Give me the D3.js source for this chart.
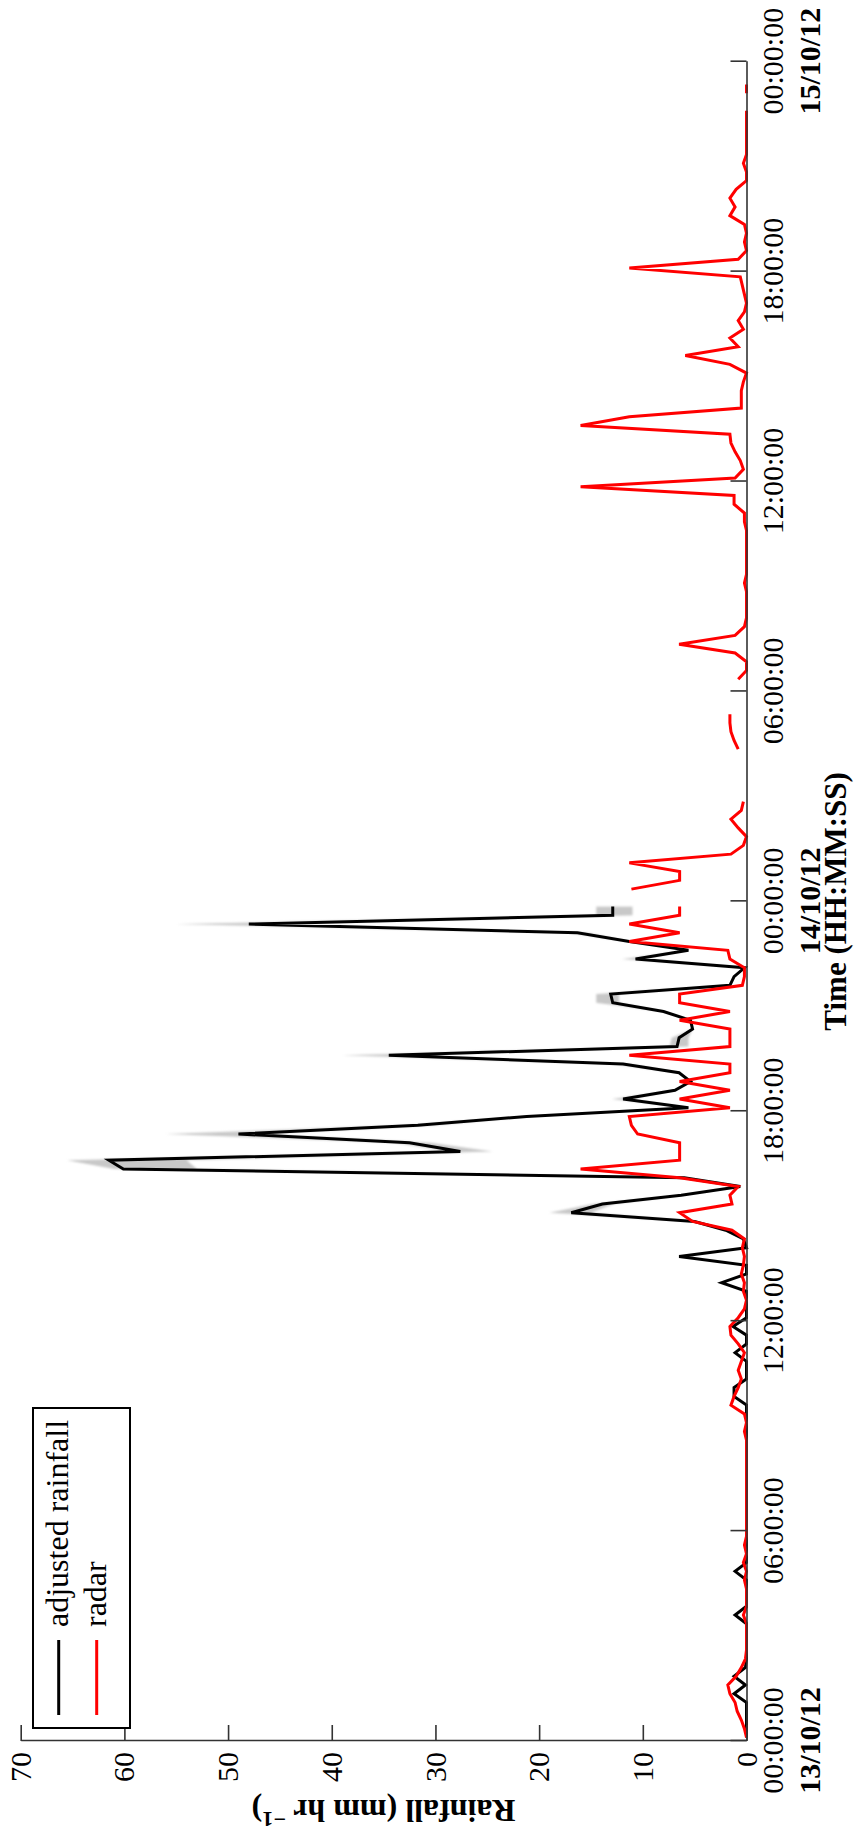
<!DOCTYPE html>
<html>
<head>
<meta charset="utf-8">
<script src="https://cdn.jsdelivr.net/npm/d3@7"></script>
<style>
  html, body { margin: 0; padding: 0; background: #ffffff; }
  svg { display: block; }
</style>
</head>
<body>
<script>
// Rainfall time series, sampled every 15 minutes from 13/10/12 00:06
const startTime = "2012-10-13T00:06:00";
const stepMinutes = 15;

// Gauge-adjusted rainfall (mm/hr)
const adjusted = [
  0, 0, 0, 0, 0, 1.2, 0.1, 1.2, 0.1, 0,
  0, 0, 0, 0, 1.1, 0, 0, 0, 0, 1.1,
  0, 0, 0, 0, 0, 0, 0, 0, 0, 0,
  0, 0, 0, 0, 0, 0, 0, 0, 0, 1.2,
  1.2, 0, 0, 0, 1.1, 0, 0, 1.3, 0, 0,
  0, 0, 2.4, 0, 0, 6.5, 0, 0.3, 2.0, 5.0,
  16.9, 13.9, 6.3, 0.6, 6.0, 60.1, 61.5, 27.6, 32.5, 49.0,
  31.7, 21.2, 5.6, 11.9, 6.9, 5.4, 6.5, 11.9, 34.5, 6.7,
  6.5, 5.2, 5.4, 8.0, 12.9, 13.1, 1.6, 1.2, 0.2, 10.7,
  5.6, 11.3, 16.3, 48.0, 12.9, 12.9
];

// Uncertainty range of the adjusted series (sample index, low, high)
const bandIdx  = [60, 61, 65, 66, 67, 68, 69, 70, 73, 77, 78, 79, 80, 84, 85, 89, 92, 93, 94, 95];
const bandLow  = [15.0, 12.8, 53, 54, 24.5, 30.5, 47, 30, 11.3, 11.3, 33.5, 5.6, 5.6, 12.3, 12.3, 10.2, 15.3, 47, 11.0, 11.0];
const bandHigh = [19.0, 14.8, 61, 65.5, 28.6, 34, 56, 33, 13.0, 13.0, 39, 7.4, 7.2, 14.5, 14.5, 12.0, 17.2, 55, 14.5, 14.5];

// Radar rainfall (mm/hr); null = no data
const radar = [
  0, 0.2, 0.5, 0.9, 1.1, 1.6, 1.8, 1.0, 0.5, 0.1,
  0, 0, 0, 0, 0.3, 0, 0, 0, 0.2, 0,
  0.3, 0, 0.2, 0, 0, 0, 0, 0, 0, 0,
  0, 0, 0, 0, 0, 0.2, 0, 0.2, 1.5, 1.2,
  0.8, 0.5, 0.8, 0.5, 0.2, 0.8, 1.5, 1.6, 0.8, 0.2,
  0, 0.3, 0.2, 0.5, 0.3, 0.2, 0.4, 0.2, 1.4, 5.2,
  6.45, 1.4, 1.6, 0.8, 6.45, 16.0, 6.45, 6.45, 6.45, 10.5,
  11.1, 11.3, 1.6, 6.45, 1.6, 6.45, 1.6, 1.6, 11.3, 1.6,
  1.6, 1.6, 6.45, 1.6, 6.45, 6.45, 0.4, 0.2, 0.2, 1.6,
  1.8, 11.3, 6.45, 11.3, 6.45, 6.45, null, 11.1, 6.45, 6.45,
  11.3, 1.5, 0.3, 0, 0.8, 1.5, 0.5, 0.3, null, null,
  null, null, null, 0.8, 1.2, 1.5, 1.6, 1.6, null, null,
  null, 0.8, 0, 0, 1.1, 6.5, 1.1, 0.2, 0, 0,
  0, 0, 0.2, 0, 0, 0, 0, 0, 0, 0.2,
  0.2, 1.2, 1.2, 16.0, 1.1, 0.3, 0.6, 1.1, 1.5, 1.6,
  16.0, 11.3, 0.5, 0.5, 0.5, 0.3, 0, 1.6, 5.9, 0.8,
  1.6, 0.3, 0.8, 0.2, 0, 0.2, 0.4, 0.6, 11.3, 0.8,
  0, 0.2, 0, 0.2, 1.6, 1.1, 1.6, 1.0, 0, 0,
  0.3, 0, 0, 0, 0, 0, 0, null, 0, 0,
  null, null, null
];

const rainTicks = [0, 10, 20, 30, 40, 50, 60, 70];
const timeTicks = [
  "2012-10-13T00:00:00", "2012-10-13T06:00:00", "2012-10-13T12:00:00", "2012-10-13T18:00:00",
  "2012-10-14T00:00:00", "2012-10-14T06:00:00", "2012-10-14T12:00:00", "2012-10-14T18:00:00",
  "2012-10-15T00:00:00"
];
const seriesNames = ["adjusted rainfall", "radar"];
const seriesColors = ["#000000", "#ff0000"];

const parse = d3.timeParse("%Y-%m-%dT%H:%M:%S");
const fmtTime = d3.timeFormat("%H:%M:%S");
const fmtDate = d3.timeFormat("%d/%m/%y");
const t0 = parse(startTime);
const timeAt = i => d3.timeMinute.offset(t0, i * stepMinutes);

const lowMap = new Map(bandIdx.map((k, j) => [k, bandLow[j]]));
const highMap = new Map(bandIdx.map((k, j) => [k, bandHigh[j]]));

const adjData = adjusted.map((v, i) => ({
  t: timeAt(i), v,
  lo: lowMap.has(i) ? lowMap.get(i) : v,
  hi: highMap.has(i) ? highMap.get(i) : v
}));
const radarData = radar.map((v, i) => ({ t: timeAt(i), v }));

// The chart is laid out landscape (time left→right) and turned a quarter turn
const PW = 1838, PH = 856;
const FONT = "'Liberation Serif', 'Times New Roman', serif";
const LINE_W = 3;

const svg = d3.select("body").append("svg")
  .attr("width", PH).attr("height", PW)
  .attr("viewBox", `0 0 ${PH} ${PW}`);

const defs = svg.append("defs");
defs.append("filter").attr("id", "soft")
  .attr("x", "-10%").attr("y", "-10%").attr("width", "120%").attr("height", "120%")
  .append("feGaussianBlur").attr("stdDeviation", 1.0);

const g = svg.append("g").attr("transform", `translate(0,${PW}) rotate(-90)`);

const x = d3.scaleTime()
  .domain([parse(timeTicks[0]), parse(timeTicks[timeTicks.length - 1])])
  .range([97, 1776.3]);
const y = d3.scaleLinear().domain([0, 70]).range([746.5, 20.7]);

// uncertainty band
g.append("path")
  .datum(adjData)
  .attr("fill", "#c8c8c8")
  .attr("filter", "url(#soft)")
  .attr("d", d3.area().x(d => x(d.t)).y0(d => y(d.lo)).y1(d => y(d.hi)));

const line = d3.line()
  .defined(d => d.v !== null)
  .x(d => x(d.t)).y(d => y(d.v));

g.append("path").datum(adjData)
  .attr("fill", "none").attr("stroke", seriesColors[0]).attr("stroke-width", LINE_W)
  .attr("stroke-linejoin", "miter").attr("d", line);

g.append("path").datum(radarData)
  .attr("fill", "none").attr("stroke", seriesColors[1]).attr("stroke-width", LINE_W)
  .attr("stroke-linejoin", "miter").attr("d", line);

// rainfall axis
const yAxis = g.append("g")
  .attr("transform", `translate(${x.range()[0]},0)`)
  .call(d3.axisLeft(y).tickValues(rainTicks).tickSize(-16).tickSizeOuter(0).tickPadding(11));
yAxis.selectAll("text").attr("font-family", FONT).attr("font-size", 30).attr("fill", "#000");

// time axis
const xAxis = g.append("g")
  .attr("transform", `translate(0,${y(0)})`)
  .call(d3.axisBottom(x).tickValues(timeTicks.map(parse)).tickSize(-16).tickSizeOuter(0).tickFormat(""));
xAxis.selectAll(".tick text").remove();
xAxis.selectAll(".tick").each(function(d) {
  const tk = d3.select(this);
  tk.append("text")
    .attr("y", 36.5).attr("text-anchor", "middle")
    .attr("font-family", FONT).attr("font-size", 30).attr("fill", "#000")
    .text(fmtTime(d));
  if (d.getHours() === 0 && d.getMinutes() === 0) {
    tk.append("text")
      .attr("y", 73.5).attr("text-anchor", "middle")
      .attr("font-family", FONT).attr("font-size", 30).attr("font-weight", "bold").attr("fill", "#000")
      .text(fmtDate(d));
  }
});

[yAxis, xAxis].forEach(a => {
  a.select(".domain").attr("stroke", "#333").attr("stroke-width", 1.6);
  a.selectAll(".tick line").attr("stroke", "#333").attr("stroke-width", 1.6);
});

// axis titles
g.append("text")
  .attr("x", (x.range()[0] + x.range()[1]) / 2).attr("y", 846)
  .attr("text-anchor", "middle")
  .attr("font-family", FONT).attr("font-size", 31).attr("font-weight", "bold")
  .text("Time (HH:MM:SS)");

const yt = g.append("text")
  .attr("transform", `translate(38,${(y.range()[0] + y.range()[1]) / 2}) rotate(-90)`)
  .attr("text-anchor", "middle")
  .attr("font-family", FONT).attr("font-size", 32).attr("font-weight", "bold");
yt.append("tspan").text("Rainfall (mm hr ");
yt.append("tspan").attr("baseline-shift", "super").attr("font-size", 22).text("\u22121");
yt.append("tspan").text(")");

// legend
const lg = g.append("g");
lg.append("rect")
  .attr("x", 110).attr("y", 33).attr("width", 320).attr("height", 97)
  .attr("fill", "#fff").attr("stroke", "#000").attr("stroke-width", 2);
const legendRows = [58.7, 96.7];
seriesNames.forEach((name, i) => {
  lg.append("line")
    .attr("x1", 123).attr("x2", 198)
    .attr("y1", legendRows[i]).attr("y2", legendRows[i])
    .attr("stroke", seriesColors[i]).attr("stroke-width", LINE_W);
  lg.append("text")
    .attr("x", 211).attr("y", legendRows[i] + 9.5)
    .attr("font-family", FONT).attr("font-size", 32).attr("fill", "#000")
    .text(name);
});
</script>
</body>
</html>
